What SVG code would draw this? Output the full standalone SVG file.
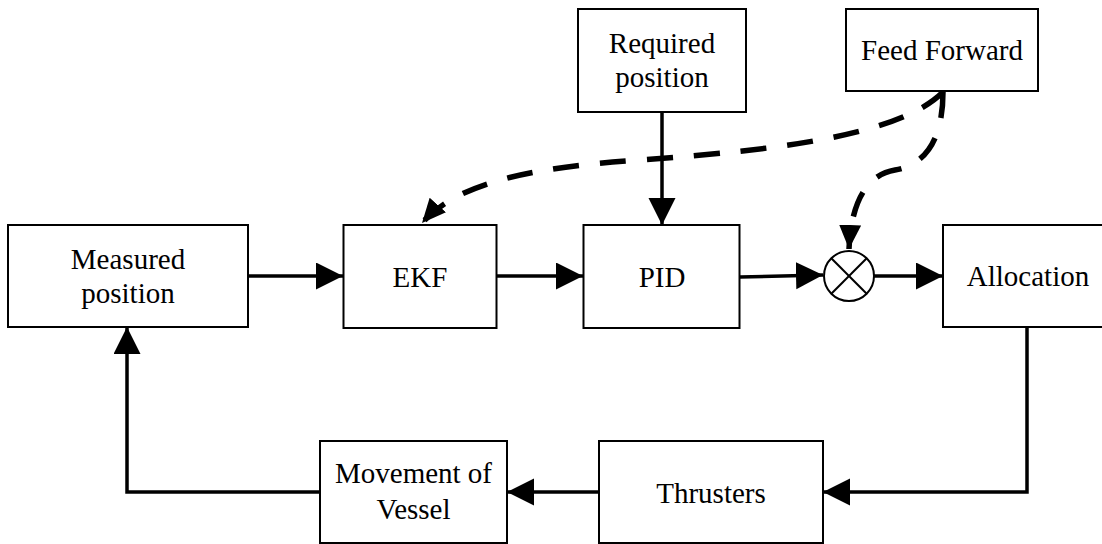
<svg xmlns="http://www.w3.org/2000/svg" width="1102" height="544" viewBox="0 0 1102 544">
<defs>
<style>
.box{fill:#fff;stroke:#000;stroke-width:2}
.lbl{font-family:'Liberation Serif','DejaVu Serif','Times New Roman',serif;font-size:29px;fill:#000;text-anchor:middle}
.ln{fill:none;stroke:#000;stroke-width:3.5}
.dash{fill:none;stroke:#000;stroke-width:5.5;stroke-dasharray:26 21}
</style>
<marker id="ah" markerUnits="userSpaceOnUse" markerWidth="28" markerHeight="28" viewBox="0 0 28 28" refX="27" refY="13.5" orient="auto">
<path d="M0,0 L27,13.5 L0,27 Z" fill="#000"/>
</marker>
<marker id="ahs" markerUnits="userSpaceOnUse" markerWidth="26" markerHeight="26" viewBox="0 0 26 26" refX="24" refY="11" orient="auto">
<path d="M0,0 L24,11 L0,22 Z" fill="#000"/>
</marker>
</defs>
<rect width="1102" height="544" fill="#fff"/>
<g id="connectors">
<line class="ln" x1="248" y1="276" x2="343" y2="276" marker-end="url(#ah)"/>
<line class="ln" x1="496" y1="276" x2="583" y2="276" marker-end="url(#ah)"/>
<line class="ln" x1="662" y1="112" x2="662" y2="225" marker-end="url(#ah)"/>
<line class="ln" x1="740" y1="277" x2="823" y2="275" marker-end="url(#ah)"/>
<line class="ln" x1="874" y1="276" x2="943" y2="276" marker-end="url(#ah)"/>
<polyline class="ln" points="1027,328 1027,492 823,492" marker-end="url(#ah)"/>
<line class="ln" x1="599" y1="492" x2="507" y2="492" marker-end="url(#ah)"/>
<polyline class="ln" points="320,492 127,492 127,327" marker-end="url(#ah)"/>
<path class="dash" d="M943,92 C900,135 780,150 640,160 C540,167 460,180 422,223" marker-end="url(#ahs)"/>
<path class="dash" d="M943,92 C943,140 925,165 895,170 C865,175 851,205 849,249" marker-end="url(#ahs)"/>
</g>
<g id="measured">
<rect class="box" x="8" y="225" width="240" height="102"/>
<text class="lbl" x="128" y="269">Measured</text>
<text class="lbl" x="128" y="303">position</text>
</g>
<g id="ekf">
<rect class="box" x="343.5" y="225" width="153" height="103"/>
<text class="lbl" x="420" y="287">EKF</text>
</g>
<g id="pid">
<rect class="box" x="583.5" y="225" width="156" height="103"/>
<text class="lbl" x="662" y="287">PID</text>
</g>
<g id="required">
<rect class="box" x="578" y="9" width="168" height="103"/>
<text class="lbl" x="662" y="53">Required</text>
<text class="lbl" x="662" y="87">position</text>
</g>
<g id="feedforward">
<rect class="box" x="846" y="9" width="192" height="82"/>
<text class="lbl" x="942" y="60">Feed Forward</text>
</g>
<g id="sum">
<circle cx="849" cy="276" r="25" fill="#fff" stroke="#000" stroke-width="2"/>
<line x1="831.3" y1="258.3" x2="866.7" y2="293.7" stroke="#000" stroke-width="2"/>
<line x1="866.7" y1="258.3" x2="831.3" y2="293.7" stroke="#000" stroke-width="2"/>
</g>
<g id="allocation">
<rect class="box" x="943" y="225" width="170" height="102"/>
<text class="lbl" x="1028" y="286">Allocation</text>
</g>
<g id="thrusters">
<rect class="box" x="599" y="441" width="224" height="102"/>
<text class="lbl" x="711" y="503">Thrusters</text>
</g>
<g id="movement">
<rect class="box" x="320" y="441" width="187" height="102"/>
<text class="lbl" x="413.5" y="483">Movement of</text>
<text class="lbl" x="413.5" y="519">Vessel</text>
</g>
</svg>
